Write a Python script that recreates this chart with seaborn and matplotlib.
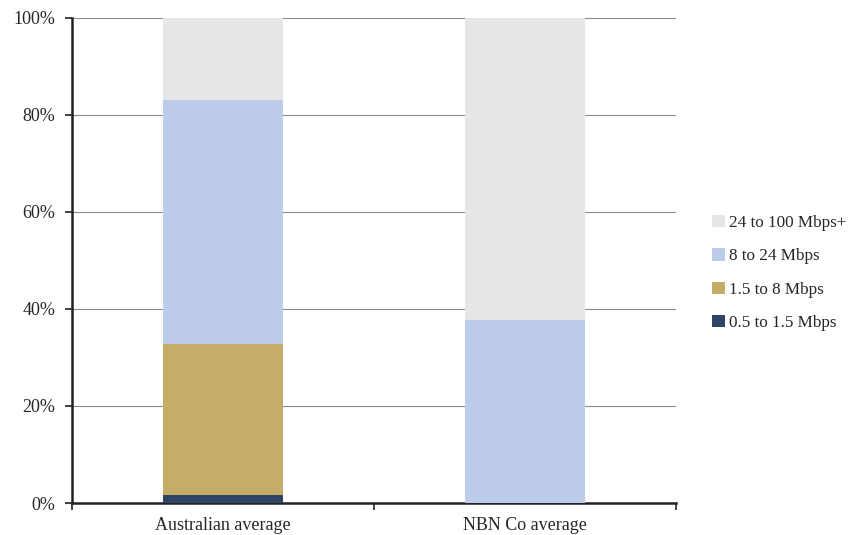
import matplotlib
matplotlib.use("Agg")
import matplotlib.pyplot as plt
import seaborn as sns
import numpy as np
import pandas as pd
from matplotlib.patches import Patch

categories = ["Australian average", "NBN Co average"]
series_names = ["0.5 to 1.5 Mbps", "1.5 to 8 Mbps", "8 to 24 Mbps", "24 to 100 Mbps+"]
s_05_15 = [1.6, 0.0]
s_15_8 = [31.2, 0.0]
s_8_24 = [50.3, 37.7]
s_24_100 = [16.9, 62.3]
colors = ["#2E4366", "#C4AD69", "#BDCDE9", "#E5E6E8"]
ytick_vals = [0, 20, 40, 60, 80, 100]
ytick_labels = ["0%", "20%", "40%", "60%", "80%", "100%"]

sns.set_style("white")
plt.rcParams["font.family"] = ["Liberation Serif", "DejaVu Serif"]

fig = plt.figure(figsize=(8.52, 5.35), dpi=100)
ax = fig.add_axes([72 / 852, 1 - 503 / 535, (676 - 72) / 852, (503 - 18) / 535])

series = [s_05_15, s_15_8, s_8_24, s_24_100]
bottom = np.zeros(len(categories))
for name, vals, col in zip(series_names, series, colors):
    df = pd.DataFrame({"cat": categories, "val": vals})
    sns.barplot(data=df, x="cat", y="val", color=col, bottom=bottom, width=0.4,
                saturation=1, ax=ax, zorder=3, linewidth=0)
    bottom = bottom + np.array(vals)

ax.set_ylim(0, 100)
ax.set_xlim(-0.5, 1.5)
ax.set_yticks(ytick_vals)
ax.set_yticklabels(ytick_labels, fontsize=13)
ax.yaxis.grid(True, color="#8c8c8c", linewidth=0.8, zorder=0)
ax.set_axisbelow(True)

ax.set_xticks([-0.5, 0.5, 1.5])
ax.set_xticklabels([])
ax.set_xticks([0, 1], minor=True)
ax.set_xticklabels(categories, minor=True, fontsize=13)
ax.tick_params(axis="x", which="major", direction="out", length=5, width=1.2, color="#222222", bottom=True)
ax.tick_params(axis="x", which="minor", length=0, pad=10)
ax.tick_params(axis="y", direction="out", length=5, width=1.2, color="#222222", left=True, pad=7)
ax.set_xlabel("")
ax.set_ylabel("")

for s in ["top", "right"]:
    ax.spines[s].set_visible(False)
for s in ["left", "bottom"]:
    ax.spines[s].set_color("#222222")
    ax.spines[s].set_linewidth(1.8)

handles = [Patch(facecolor=c, edgecolor="none") for c in colors][::-1]
labels = series_names[::-1]
fig.legend(handles, labels, loc="center left", bbox_to_anchor=(697 / 852, 1 - 273 / 535),
           frameon=False, fontsize=12.3, handlelength=0.75, handleheight=0.75,
           handletextpad=0.2, labelspacing=1.0)

fig.savefig("out.png", dpi=100)
